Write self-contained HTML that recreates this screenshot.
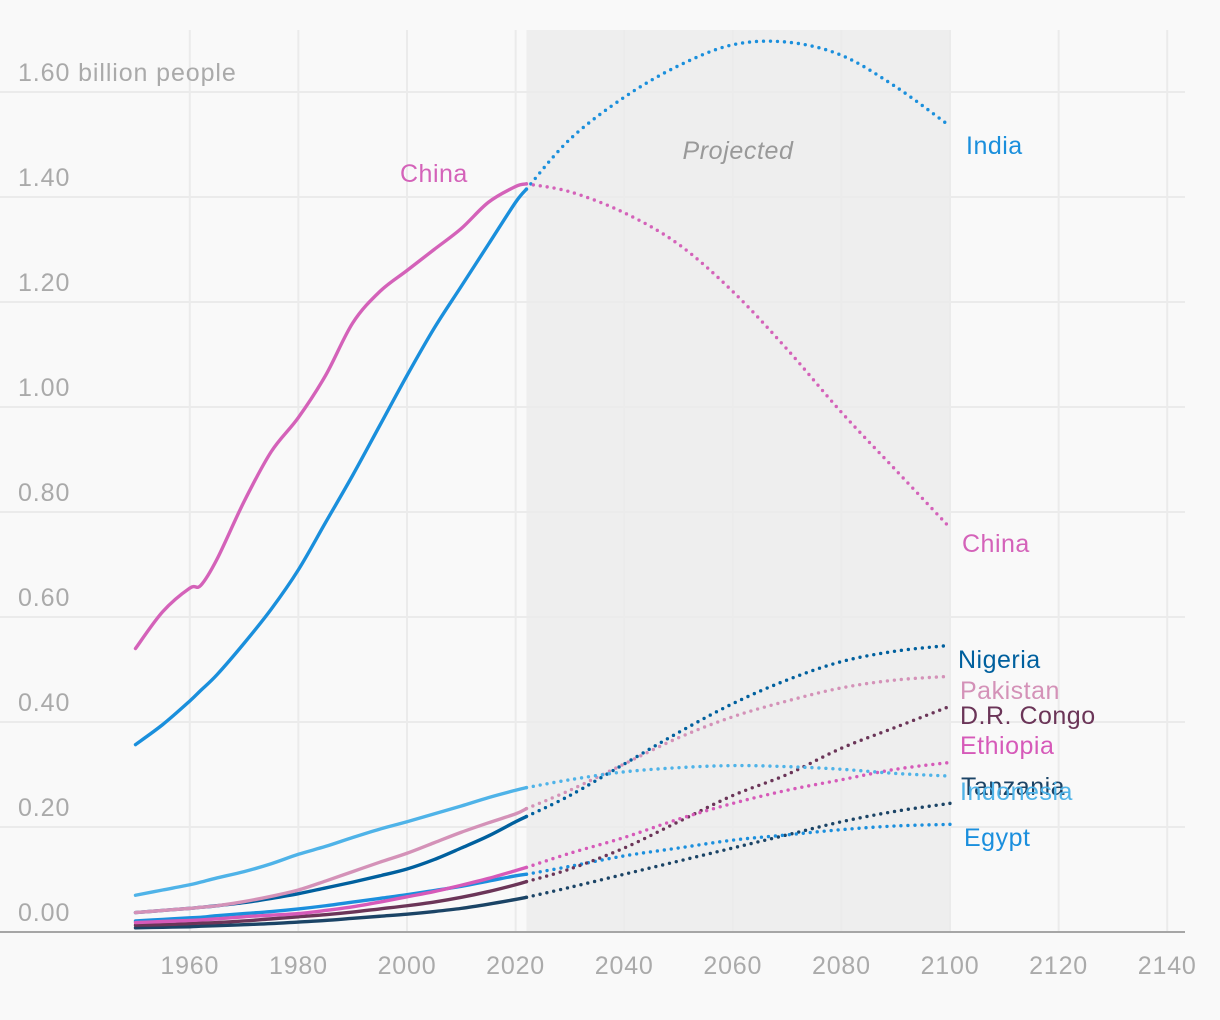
<!DOCTYPE html>
<html><head><meta charset="utf-8"><style>
body{margin:0;background:#f9f9f9;}
svg{display:block;font-family:"Liberation Sans",sans-serif;}
</style></head><body>
<svg id="chart" width="1220" height="1020" viewBox="0 0 1220 1020">
<rect x="0" y="0" width="1220" height="1020" fill="#f9f9f9"/>
<g id="grid"></g>
<g id="series"></g>
<g id="labels"></g>
</svg>
<script>
const histYears=[1950,1955,1960,1962,1965,1970,1975,1980,1985,1990,1995,2000,2005,2010,2015,2020,2022];
const projYears=[2030,2040,2050,2060,2070,2080,2090,2100];
const yTicks=[0,0.2,0.4,0.6,0.8,1.0,1.2,1.4,1.6];
const yTickLabels=["0.00","0.20","0.40","0.60","0.80","1.00","1.20","1.40","1.60 billion people"];
const xTicks=[1960,1980,2000,2020,2040,2060,2080,2100,2120,2140];
const chinaHist=[0.54,0.61,0.655,0.66,0.71,0.82,0.915,0.98,1.06,1.16,1.22,1.26,1.30,1.34,1.39,1.42,1.425];
const chinaProj=[1.41,1.37,1.31,1.22,1.11,0.99,0.88,0.77];
const indiaHist=[0.357,0.395,0.44,0.46,0.49,0.55,0.615,0.69,0.78,0.87,0.965,1.06,1.15,1.23,1.31,1.39,1.415];
const indiaProj=[1.51,1.59,1.65,1.69,1.695,1.67,1.61,1.535];
const indonesiaHist=[0.07,0.08,0.09,0.095,0.103,0.115,0.13,0.148,0.163,0.18,0.196,0.21,0.225,0.24,0.256,0.27,0.275];
const indonesiaProj=[0.29,0.305,0.313,0.317,0.315,0.31,0.302,0.297];
const pakistanHist=[0.037,0.041,0.045,0.047,0.05,0.058,0.068,0.08,0.097,0.115,0.133,0.15,0.17,0.19,0.208,0.225,0.235];
const pakistanProj=[0.27,0.32,0.37,0.41,0.44,0.465,0.48,0.487];
const nigeriaHist=[0.037,0.041,0.045,0.047,0.05,0.056,0.064,0.073,0.084,0.095,0.107,0.12,0.138,0.16,0.183,0.21,0.22];
const nigeriaProj=[0.26,0.32,0.38,0.435,0.48,0.515,0.535,0.546];
const congoHist=[0.013,0.014,0.016,0.017,0.018,0.021,0.025,0.029,0.033,0.038,0.044,0.05,0.057,0.066,0.077,0.09,0.096];
const congoProj=[0.12,0.16,0.21,0.26,0.30,0.35,0.39,0.43];
const ethiopiaHist=[0.018,0.02,0.022,0.023,0.025,0.029,0.032,0.035,0.041,0.048,0.057,0.067,0.077,0.089,0.102,0.117,0.123];
const ethiopiaProj=[0.15,0.18,0.215,0.245,0.27,0.29,0.31,0.323];
const egyptHist=[0.021,0.024,0.027,0.028,0.031,0.035,0.039,0.044,0.05,0.057,0.064,0.071,0.079,0.087,0.097,0.107,0.11];
const egyptProj=[0.125,0.145,0.16,0.175,0.185,0.195,0.202,0.205];
const tanzaniaHist=[0.008,0.009,0.01,0.011,0.012,0.014,0.016,0.019,0.022,0.026,0.03,0.034,0.039,0.045,0.053,0.062,0.066];
const tanzaniaProj=[0.085,0.11,0.135,0.16,0.185,0.21,0.23,0.245];

const NS="http://www.w3.org/2000/svg";
const xS=y=>950+(y-2100)*5.43;
const yS=v=>932-v*525;
function mk(tag,attrs,parent){const e=document.createElementNS(NS,tag);for(const k in attrs)e.setAttribute(k,attrs[k]);parent.appendChild(e);return e;}
const grid=document.getElementById('grid'),ser=document.getElementById('series'),lab=document.getElementById('labels');

const shade=mk('rect',{x:xS(2022),y:30,width:xS(2100)-xS(2022),height:902,fill:'#eeeeee'},grid);


xTicks.forEach(t=>{
  const l=mk('line',{x1:xS(t),x2:xS(t),y1:30,y2:932,stroke:'#ebebeb','stroke-width':2},grid);
  
  
  const tx=mk('text',{x:xS(t),y:974,'text-anchor':'middle','font-size':25,'letter-spacing':'0.8',fill:'#aaaaaa'},lab);
  tx.textContent=t;
  
  
});
yTicks.forEach((t,i)=>{
  if(t>0){const l=mk('line',{x1:0,x2:1185,y1:yS(t),y2:yS(t),stroke:'#ebebeb','stroke-width':2},grid);
  
  }
  const tx=mk('text',{x:18,y:yS(t)-11,'font-size':25,'letter-spacing':'0.9',fill:'#aaaaaa'},lab);
  tx.textContent=yTickLabels[i];
  
  
});
const ax=mk('line',{x1:0,x2:1185,y1:932,y2:932,stroke:'#a6a6a6','stroke-width':2},grid);


const pj=mk('text',{x:738,y:159,'text-anchor':'middle','font-size':25,'font-style':'italic','letter-spacing':'0.6',fill:'#999999'},lab);
pj.textContent='Projected';



function path(ys,vs){
  const p=ys.map((y,i)=>[xS(y),yS(vs[i])]);
  let d='M'+p[0][0]+','+p[0][1];
  for(let i=0;i<p.length-1;i++){
    const p0=p[i-1]||p[i],p1=p[i],p2=p[i+1],p3=p[i+2]||p2;
    const c1=[p1[0]+(p2[0]-p0[0])/6,p1[1]+(p2[1]-p0[1])/6],c2=[p2[0]-(p3[0]-p1[0])/6,p2[1]-(p3[1]-p1[1])/6];
    d+=' C'+c1.join(',')+' '+c2.join(',')+' '+p2.join(',');
  }
  return d;
}
const countries=[
 ['tanzania',tanzaniaHist,tanzaniaProj,'#1b4466','Tanzania',961,795],
 ['egypt',egyptHist,egyptProj,'#1b8fdd','Egypt',964,846],
 ['congo',congoHist,congoProj,'#6b3558','D.R. Congo',960,724],
 ['ethiopia',ethiopiaHist,ethiopiaProj,'#d65ab9','Ethiopia',960,754],
 ['nigeria',nigeriaHist,nigeriaProj,'#00609e','Nigeria',958,668],
 ['pakistan',pakistanHist,pakistanProj,'#d492b8','Pakistan',960,699],
 ['indonesia',indonesiaHist,indonesiaProj,'#4fb3e8','Indonesia',960,800],
 ['india',indiaHist,indiaProj,'#1a8fdc','India',966,154],
 ['china',chinaHist,chinaProj,'#d462b9','China',962,552]
];
countries.forEach(c=>{
  const h=mk('path',{d:path(histYears,c[1]),fill:'none',stroke:c[3],'stroke-width':3.4,'stroke-linecap':'round'},ser);
  
  
  const pyrs=[2022].concat(projYears),pv=[c[1][c[1].length-1]].concat(c[2]);
  const p=mk('path',{d:path(pyrs,pv),fill:'none',stroke:c[3],'stroke-width':3.4,'stroke-linecap':'round','stroke-dasharray':'0 7'},ser);
  
  
  const t=mk('text',{x:c[5],y:c[6],'font-size':25,'letter-spacing':'0.5',fill:c[3]},lab);
  t.textContent=c[4];
  
  
});
const cl=mk('text',{x:400,y:182,'font-size':25,'letter-spacing':'0.5',fill:'#d462b9'},lab);
cl.textContent='China';


</script>
</body></html>
